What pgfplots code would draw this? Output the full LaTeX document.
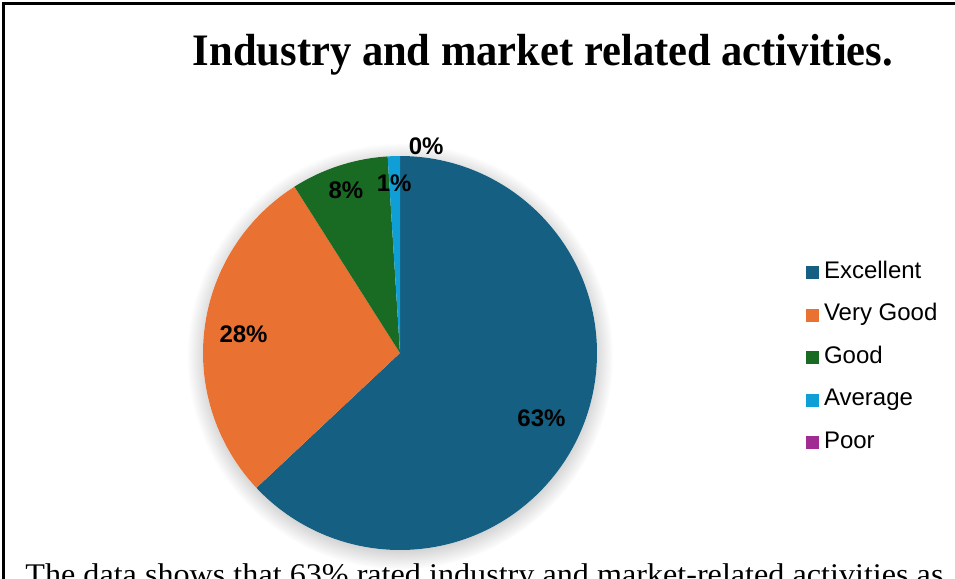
\documentclass[border=0pt]{standalone}
\usepackage{pgfplots}
\pgfplotsset{compat=1.18}
\usepackage{pgfplotstable}
\usepackage{graphicx}
\usepackage{fontspec}
\usetikzlibrary{shadows,fadings}
\setmainfont{Liberation Serif}
\newfontfamily\arialfont{Liberation Sans}

\definecolor{c0}{HTML}{156082}
\definecolor{c1}{HTML}{E97132}
\definecolor{c2}{HTML}{196B24}
\definecolor{c3}{HTML}{0F9ED5}
\definecolor{c4}{HTML}{A02B93}

% value = share in percent, lr = label radius, ls = label angle shift
\pgfplotstableread{
label        value  lr    ls
Excellent    63     0.79  -1.2
{Very Good}  28     0.80  0.3
Good         8      0.87  0.4
Average      1      0.86  0.2
Poor         0      1.06  -7.2
}\piedata

\def\R{98.5pt}

\begin{document}
\begin{tikzpicture}
\useasboundingbox (0,0) rectangle (477.5pt,-289.5pt);
\clip (0,0) rectangle (477.5pt,-289.5pt);

% frame
\draw[line width=1.2pt] (1.75pt,-295pt) -- (1.75pt,-1.75pt) -- (480pt,-1.75pt);

% title
\node[anchor=base, inner sep=0pt, font=\fontsize{22.5pt}{26pt}\selectfont\bfseries]
  at (271.5pt,-32.5pt) {\resizebox{350pt}{\height}{Industry and market related activities.}};

\begin{axis}[
  at={(200pt,-176.5pt)}, anchor=center,
  x=\R, y=\R,
  xmin=-1, xmax=1, ymin=-1, ymax=1,
  hide axis, clip=false,
  legend style={
    at={(1.530,0.736)}, anchor=north west,
    draw=none, fill=none, inner sep=0pt,
    row sep=9.25pt,
    font=\arialfont\fontsize{12pt}{14pt}\selectfont,
    nodes={inner sep=0pt, text height=9pt, text depth=3pt},
  },
  legend cell align=left,
  legend image code/.code={\fill[#1] (0pt,-3pt) rectangle (6pt,3pt);},
]
\addlegendimage{c0}\addlegendentry{\hspace{2.5pt}Excellent}
\addlegendimage{c1}\addlegendentry{\hspace{2.5pt}Very Good}
\addlegendimage{c2}\addlegendentry{\hspace{2.5pt}Good}
\addlegendimage{c3}\addlegendentry{\hspace{2.5pt}Average}
\addlegendimage{c4}\addlegendentry{\hspace{2.5pt}Poor}

\pgfplotsextra{
  \fill[white, circular drop shadow={shadow xshift=0pt, shadow yshift=-1.5pt,
        shadow scale=1.08, opacity=0.55}] (axis cs:0,0) circle[radius=\R];
  \def\ang{90}
  \pgfplotsforeachungrouped \i in {0,...,4}{
    \pgfplotstablegetelem{\i}{value}\of\piedata \let\v\pgfplotsretval
    \pgfplotstablegetelem{\i}{lr}\of\piedata \let\lr\pgfplotsretval
    \pgfplotstablegetelem{\i}{ls}\of\piedata \let\ls\pgfplotsretval
    \pgfmathsetmacro\endang{\ang-3.6*\v}
    \pgfmathsetmacro\mid{(\ang+\endang)/2+\ls}
    \ifdim\v pt>0pt
      \fill[c\i] (axis cs:0,0) -- (axis cs:{cos(\ang)},{sin(\ang)})
        arc[start angle=\ang, end angle=\endang, radius=\R] -- cycle;
    \fi
    \node[font=\arialfont\bfseries\fontsize{12pt}{14pt}\selectfont, inner sep=0pt]
      at (axis cs:{\lr*cos(\mid)},{\lr*sin(\mid)}) {\v\%};
    \let\ang\endang
  }
}
\end{axis}

% caption text below, cut by the page edge
\node[anchor=base west, inner sep=0pt, font=\fontsize{15pt}{18pt}\selectfont]
  at (12.5pt,-292pt) {\resizebox{459pt}{\height}{The data shows that 63\% rated industry and market-related activities as}};
\end{tikzpicture}
\end{document}
